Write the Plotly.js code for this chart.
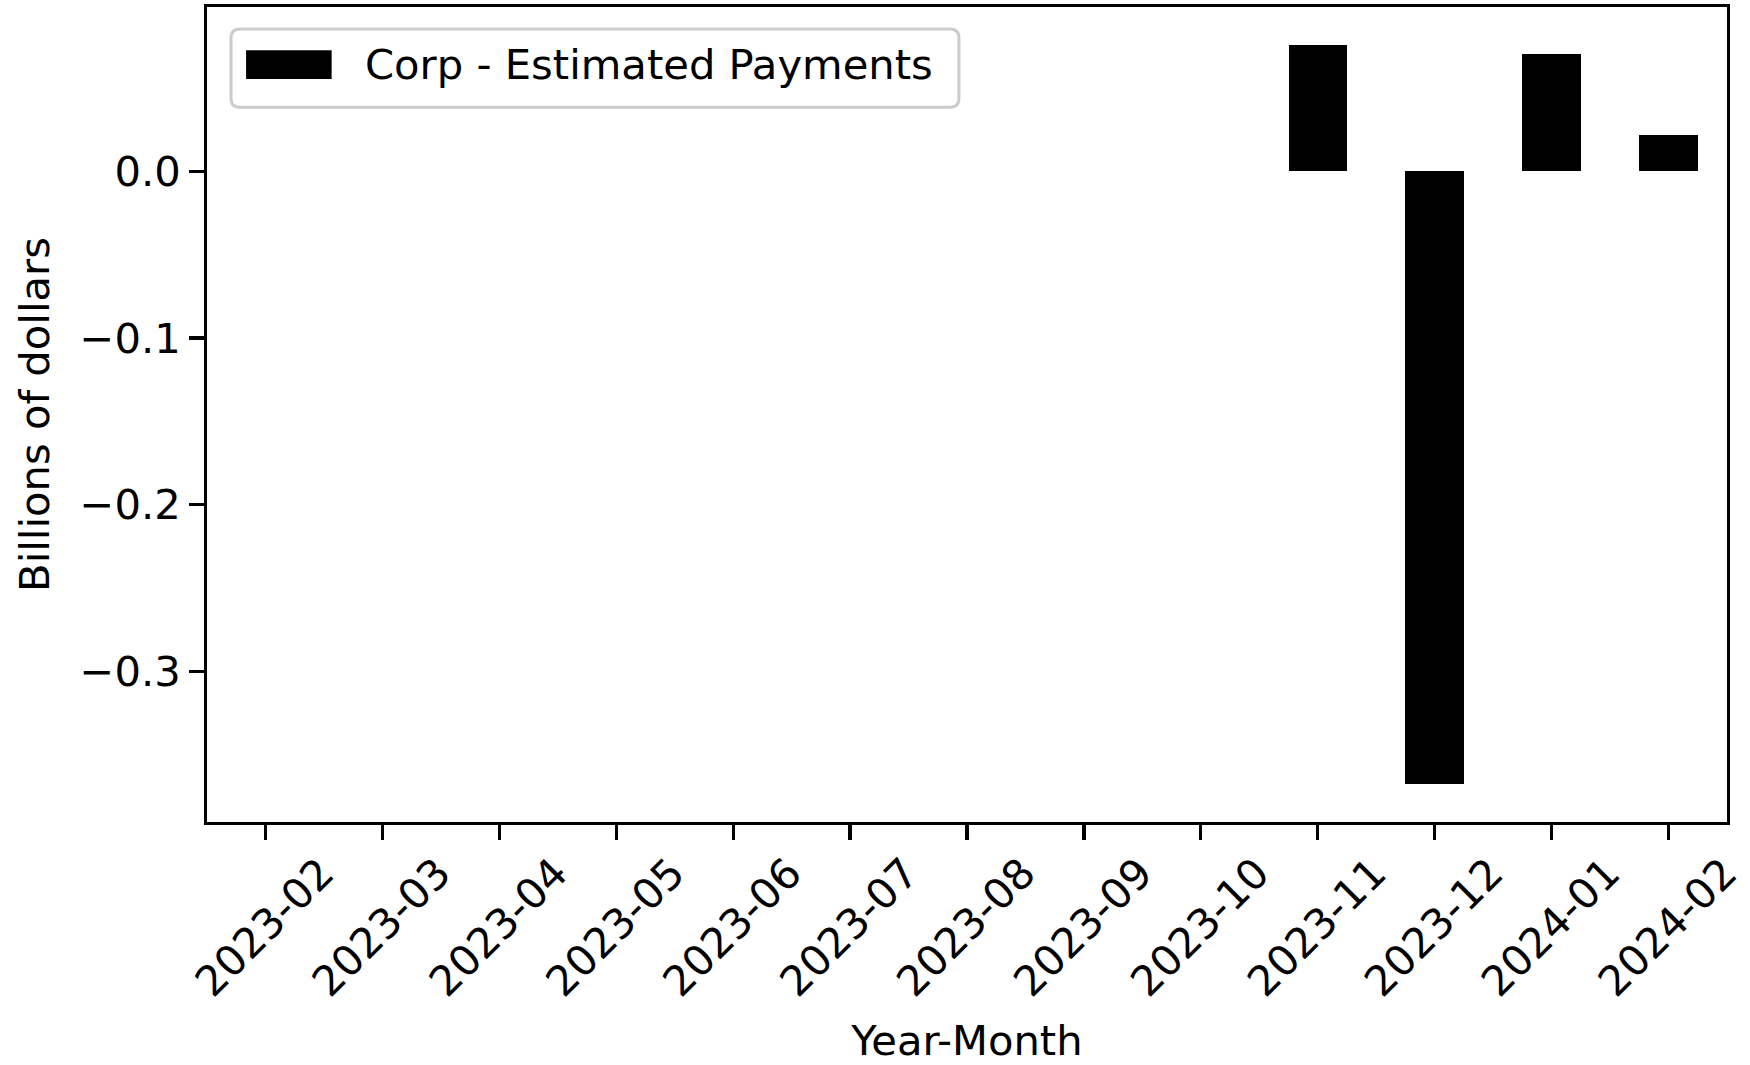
<!DOCTYPE html>
<html>
<head>
<meta charset="utf-8">
<script src="https://cdn.plot.ly/plotly-3.0.1.min.js"></script>
<style>html,body{margin:0;padding:0;background:#fff;}#chart{width:1750px;height:1065px;}</style>
</head>
<body>
<div id="chart"></div>
<script>
// Data
const months = ['2023-02','2023-03','2023-04','2023-05','2023-06','2023-07','2023-08','2023-09','2023-10','2023-11','2023-12','2024-01','2024-02'];
const estimatedPayments = [null, null, null, null, null, null, null, null, null, 0.0757, -0.3676, 0.0705, 0.0219];
const seriesName = 'Corp - Estimated Payments';
const yTickValues = [-0.3, -0.2, -0.1, 0.0];
const xTitle = 'Year-Month';
const yTitle = 'Billions of dollars';

const FONT = 'DejaVu Sans, Verdana, sans-serif';
const FS = 41.7;
const LW = 3.3;

const trace = {
  type: 'bar',
  x: months,
  y: estimatedPayments,
  name: seriesName,
  width: 0.5,
  marker: {color: '#000000', line: {width: 0}},
  showlegend: false,
  hoverinfo: 'x+y'
};

// legend box drawn in matplotlib style (wide patch handle)
const lx0 = 0.0158, lx1 = 0.4947, ly0 = 0.877, ly1 = 0.973;
const rx = 9 / 1520, ry = 9 / 815;
const boxPath = `M${lx0+rx},${ly1} L${lx1-rx},${ly1} Q${lx1},${ly1} ${lx1},${ly1-ry} L${lx1},${ly0+ry} Q${lx1},${ly0} ${lx1-rx},${ly0} L${lx0+rx},${ly0} Q${lx0},${ly0} ${lx0},${ly0+ry} L${lx0},${ly1-ry} Q${lx0},${ly1} ${lx0+rx},${ly1} Z`;

const layout = {
  width: 1750,
  height: 1065,
  margin: {l: 207, r: 23, t: 7, b: 243, pad: 0},
  paper_bgcolor: '#ffffff',
  plot_bgcolor: '#ffffff',
  font: {family: FONT, size: FS, color: '#000000'},
  showlegend: false,
  bargap: 0,
  xaxis: {
    type: 'category',
    range: [-0.5, 12.5],
    showgrid: false,
    zeroline: false,
    showline: true,
    mirror: true,
    linecolor: '#000000',
    linewidth: LW,
    ticks: 'outside',
    ticklen: 14.6,
    tickwidth: LW,
    tickcolor: '#000000',
    tickangle: -45,
    ticklabelshift: 56,
    ticklabelstandoff: -8,
    tickfont: {family: FONT, size: FS, color: '#000000'},
    title: {text: xTitle, font: {family: FONT, size: FS, color: '#000000'}, standoff: 22},
    automargin: false,
    fixedrange: true
  },
  yaxis: {
    range: [-0.3902, 0.0985],
    tickvals: yTickValues,
    tickformat: '.1f',
    showgrid: false,
    zeroline: false,
    showline: true,
    mirror: true,
    linecolor: '#000000',
    linewidth: LW,
    ticks: 'outside',
    ticklen: 14.6,
    tickwidth: LW,
    tickcolor: '#000000',
    tickfont: {family: FONT, size: FS, color: '#000000'},
    title: {text: yTitle, font: {family: FONT, size: FS, color: '#000000'}, standoff: 18},
    automargin: false,
    fixedrange: true
  },
  shapes: [
    {type: 'path', xref: 'paper', yref: 'paper', path: boxPath,
     fillcolor: 'rgba(255,255,255,0.8)', line: {color: '#cccccc', width: 3}},
    {type: 'rect', xref: 'paper', yref: 'paper', x0: 0.0257, x1: 0.082, y0: 0.9117, y1: 0.947,
     fillcolor: '#000000', line: {width: 0}}
  ],
  annotations: [
    {xref: 'paper', yref: 'paper', x: 0.1024, y: 0.930, xanchor: 'left', yanchor: 'middle',
     text: seriesName, showarrow: false, font: {family: FONT, size: FS, color: '#000000'}}
  ]
};

Plotly.newPlot('chart', [trace], layout, {displayModeBar: false, staticPlot: true});
</script>
</body>
</html>
